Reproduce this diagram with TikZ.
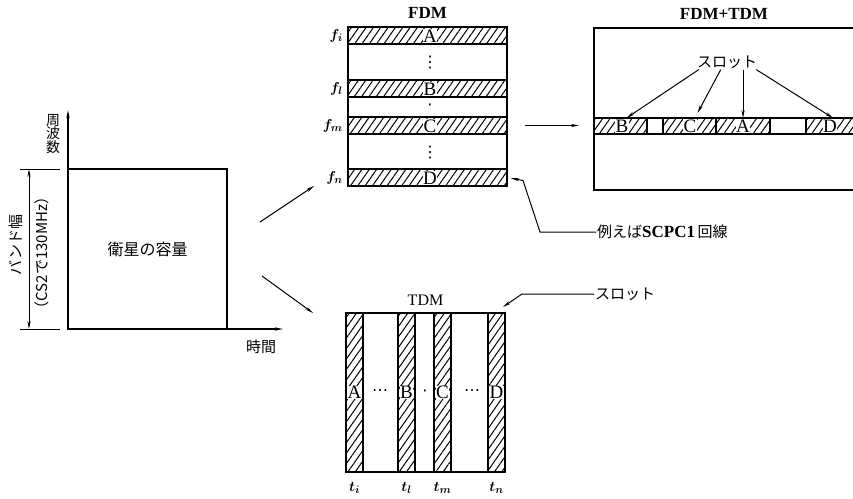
\documentclass[tikz,border=0pt]{standalone}
\usepackage{fontspec}
\setmainfont{Liberation Serif}
\newfontfamily\cjk{Noto Sans CJK JP}
\newfontfamily\symf{DejaVu Sans}
\usetikzlibrary{arrows.meta, positioning, calc, patterns.meta}
\tikzset{
  >={Stealth[length=8pt,width=3.2pt]},
  panel/.style={draw, line width=1.8pt, inner sep=0pt, outer sep=0pt},
  band/.style={draw, line width=1.4pt, inner sep=0pt, outer sep=0pt,
    pattern={Lines[angle=55,distance=6pt,line width=1pt]}},
  gap/.style={draw, line width=1.4pt, inner sep=0pt, outer sep=0pt, fill=white},
  hband/.style={band, minimum width=159pt, minimum height=17pt},
  vband/.style={band, minimum width=17pt, minimum height=159pt},
  seg/.style={minimum height=16pt},
  tag/.style={font=\fontsize{19}{19}\selectfont, fill=white, inner sep=0.4pt},
  jtext/.style={font=\cjk\fontsize{15}{16}\selectfont, inner sep=1pt},
  title/.style={font=\fontsize{16}{17}\selectfont},
  btitle/.style={font=\bfseries\fontsize{17}{18}\selectfont},
  idx/.style={font=\boldmath\fontsize{15}{15}\selectfont, inner sep=1pt},
  dots/.style={font=\symf\fontsize{16}{17}\selectfont, inner sep=0pt},
  flow/.style={->, line width=1pt},
  axis/.style={->, line width=1.6pt},
}

\begin{document}
\begin{tikzpicture}[x=1pt, y=-1pt]
  \clip (0,0) rectangle (853,498);
  \fill[white] (0,0) rectangle (853,498);

  % ---- Satellite capacity ------------------------------------------------
  \node[panel, minimum width=159pt, minimum height=160pt,
        font=\cjk\fontsize{16}{17}\selectfont] (cap) at (147.5,249) {衛星の容量};
  \coordinate (ytip) at (68,110);
  \coordinate (xtip) at (283,329);
  \draw[axis] (cap.south west) -- (ytip);
  \draw[axis] (cap.south west) -- (xtip);
  \node[jtext, align=center, font=\cjk\fontsize{14}{13.5}\selectfont] (freq) at (53,134) {周\\波\\数};
  \node[jtext] (time) at (261,347) {時間};

  % band width dimension
  \draw[line width=1pt] ([xshift=-48pt]cap.north west) -- ([xshift=-8pt]cap.north west);
  \draw[line width=1pt] ([xshift=-48pt]cap.south west) -- ([xshift=-8pt]cap.south west);
  \draw[<->, line width=1pt] ([xshift=-39pt]cap.north west) -- ([xshift=-39pt]cap.south west);
  \node[jtext, rotate=90] (bw1) at (16,245) {バンド幅};
  \node[jtext, rotate=90] (bw2) at (42,253) {（CS2で130MHz）};

  % ---- FDM ---------------------------------------------------------------
  \node[panel, minimum width=159pt, minimum height=159pt] (fdm) at (427.5,106.5) {};
  \node[btitle, above=5pt of fdm] (tfdm) {FDM};
  \node[hband] (bandA) at (427.5,35.5)  {};
  \node[hband] (bandB) at (427.5,88.5)  {};
  \node[hband] (bandC) at (427.5,125.5) {};
  \node[hband] (bandD) at (427.5,177.5) {};
  \node[tag] (fA) at (430,36)  {A};
  \node[tag] (fB) at (430,89)  {B};
  \node[tag] (fC) at (430,126) {C};
  \node[tag] (fD) at (430,178) {D};
  \node[idx, left=4pt of bandA] (fi) {$f_i$};
  \node[idx, left=4pt of bandB] (fl) {$f_l$};
  \node[idx, left=4pt of bandC] (fm) {$f_m$};
  \node[idx, left=4pt of bandD] (fn) {$f_n$};
  \node[dots] (fd1) at (430,63)  {⋮};
  \node[dots] (fd2) at (430,107) {·};
  \node[dots] (fd3) at (430,153) {⋮};

  % ---- FDM+TDM -----------------------------------------------------------
  \node[panel, minimum width=276pt, minimum height=162pt] (ftd) at (732,109) {};
  \node[btitle] (tftd) at (724,14) {FDM+TDM};
  \node[band, seg, minimum width=53pt] (segB) at (620.5,126) {};
  \node[gap,  seg, minimum width=16pt] (gap1) at (655,126)   {};
  \node[band, seg, minimum width=53pt] (segC) at (689.5,126) {};
  \node[band, seg, minimum width=54pt] (segA) at (743,126)   {};
  \node[gap,  seg, minimum width=36pt] (gap2) at (788,126)   {};
  \node[band, seg, minimum width=64pt] (segD) at (838,126)   {};
  \node[tag] (sB) at (622,126) {B};
  \node[tag] (sC) at (690,126) {C};
  \node[tag] (sA) at (743,126) {A};
  \node[tag] (sD) at (830,126) {D};
  \node[jtext] (slot) at (727,62) {スロット};
  \draw[flow] ([xshift=3pt]slot.south west) -- ([xshift=6pt]segB.north);
  \draw[flow] ($(slot.south west)!0.4!(slot.south east)$) -- ([shift={(8,-5)}]segC.north);
  \draw[flow] (segA.north |- slot.south) -- (segA.north);
  \draw[flow] ([xshift=-2pt]slot.south east) -- ([xshift=-5pt]segD.north);

  % ---- TDM ---------------------------------------------------------------
  \node[panel, minimum width=159pt, minimum height=159pt] (tdm) at (425.5,392.5) {};
  \node[title, above=4pt of tdm] (ttdm) {TDM};
  \node[vband] (colA) at (354.5,392.5) {};
  \node[vband] (colB) at (406.5,392.5) {};
  \node[vband] (colC) at (442.5,392.5) {};
  \node[vband] (colD) at (496.5,392.5) {};
  \node[tag] (tA) at (colA) {A};
  \node[tag] (tB) at (colB) {B};
  \node[tag] (tC) at (colC) {C};
  \node[tag] (tD) at (colD) {D};
  \node[dots] (td1) at (380,393) {⋯};
  \node[dots] (td2) at (425,393) {·};
  \node[dots] (td3) at (472,393) {⋯};
  \node[idx, below=9pt of colA] (ti) {$t_i$};
  \node[idx, below=9pt of colB] (tl) {$t_l$};
  \node[idx, below=9pt of colC] (tm) {$t_m$};
  \node[idx, below=9pt of colD] (tn) {$t_n$};

  % ---- Connectors --------------------------------------------------------
  \draw[flow] ($(cap.east)+(33,-27)$) -- ($(fdm.south west)+(-34,0)$);
  \draw[flow] ($(cap.east)+(35,27)$) -- ($(tdm.north west)+(-33,0)$);
  \draw[flow] ($(fdm.east |- bandC)+(18,0)$) -- ($(ftd.west |- bandC)+(-15,0)$);

  % callouts
  \node[jtext, anchor=west] (slot2) at (594,294) {スロット};
  \draw[flow] (slot2.west) -- ++(-72,0) -- ([shift={(-2,-6)}]colD.north east);
  \node[anchor=west, inner sep=1pt, font=\fontsize{15}{16}\selectfont] (scpc) at (596,232)
    {{\cjk 例えば}{\bfseries\fontsize{17}{17}\selectfont SCPC1}\,{\cjk 回線}};
  \draw[flow, shorten >=4pt] (scpc.west) -- ++(-56,0) -- ($(bandD.east)+(16,3)$) -- (bandD.east);

\end{tikzpicture}
\end{document}
